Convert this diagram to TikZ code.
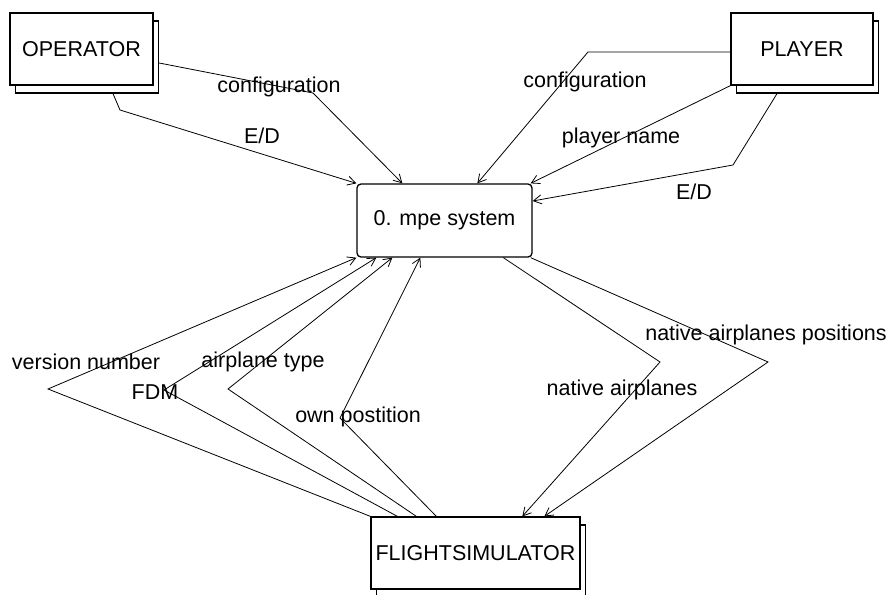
\documentclass[tikz,border=0pt]{standalone}
\usepackage{fontspec}
\setmainfont{Liberation Sans}
\usetikzlibrary{arrows.meta,calc,shadows}
\begin{document}
\begin{tikzpicture}[x=1pt,y=-1pt,
  every node/.style={font=\fontsize{21.5}{25}\selectfont},
  entity/.style={draw, line width=1.3pt, fill=white, inner sep=0pt,
    minimum width=#1, minimum height=72pt,
    copy shadow={shadow xshift=5.5pt, shadow yshift=-8pt, draw=black, fill=white, line width=1.3pt}},
  process/.style={draw, line width=1.3pt, rounded corners=4pt, fill=white, inner sep=0pt,
    minimum width=175pt, minimum height=73pt},
  flow/.style={line width=0.8pt, -{Straight Barb[length=8pt,width=9pt]}},
  lbl/.style={inner sep=0pt}]
\clip (0,0) rectangle (888,594);
\useasboundingbox (0,0) rectangle (888,594);

% external entities and the process
\node[entity=143pt] (op) at (81.5,49) {OPERATOR};
\node[entity=142pt] (pl) at (802,49) {PLAYER};
\node[entity=209pt] (fs) at (475.5,553) {FLIGHTSIMULATOR};
\node[process] (mpe) at (444.5,220.5) {0. mpe system};

% bend points
\coordinate (b1) at (313,93);
\coordinate (b2) at (120,110);
\coordinate (b3) at (588,52);
\coordinate (b4) at (733,165);
\coordinate (b5) at (48,389);
\coordinate (b6) at (164,390);
\coordinate (b7) at (228,389);
\coordinate (b8) at (340,418);
\coordinate (b9) at (660,362);
\coordinate (b10) at (768,362);

% flows from OPERATOR
\draw[flow] ($(op.east)+(5.5,14)$) -- (b1) -- ($(mpe.north west)+(46,0)$);
\draw[flow] ($(op.south)+(31.5,8)$) -- (b2) -- (mpe.north west);

% flows from PLAYER
\draw[flow] ($(pl.west)+(0,3)$) -- (b3) -- ($(mpe.north west)+(121,0)$);
\draw[flow] (pl.south west) -- ($(mpe.north east)+(-2,0)$);
\draw[flow] ($(pl.south)+(-25,8)$) -- (b4) -- ($(mpe.east)+(0,-19.5)$);

% flows from FLIGHTSIMULATOR
\draw[flow] (fs.north west) -- (b5) -- (mpe.south west);
\draw[flow] ($(fs.north west)+(27,0)$) -- (b6) -- ($(mpe.south west)+(20,0)$);
\draw[flow] ($(fs.north west)+(46,0)$) -- (b7) -- ($(mpe.south west)+(36,0)$);
\draw[flow] ($(fs.north west)+(66,0)$) -- (b8) -- ($(mpe.south west)+(64,0)$);

% flows to FLIGHTSIMULATOR
\draw[flow] ($(mpe.south west)+(147,0)$) -- (b9) -- ($(fs.north west)+(152,0)$);
\draw[flow] ($(mpe.south east)+(-2,0)$) -- (b10) -- ($(fs.north west)+(174,0)$);

% flow labels
\node[lbl] (l1) at (279,87) {configuration};
\node[lbl] (l2) at (262,136) {E/D};
\node[lbl] (l3) at (585,82) {configuration};
\node[lbl] (l4) at (621,138) {player name};
\node[lbl] (l5) at (694,192) {E/D};
\node[lbl] (l6) at (86,362) {version number};
\node[lbl] (l7) at (155,392) {FDM};
\node[lbl] (l8) at (263,362) {airplane type};
\node[lbl] (l9) at (358,417) {own postition};
\node[lbl] (l10) at (622,390) {native airplanes};
\node[lbl] (l11) at (766,335) {native airplanes positions};
\end{tikzpicture}
\end{document}
